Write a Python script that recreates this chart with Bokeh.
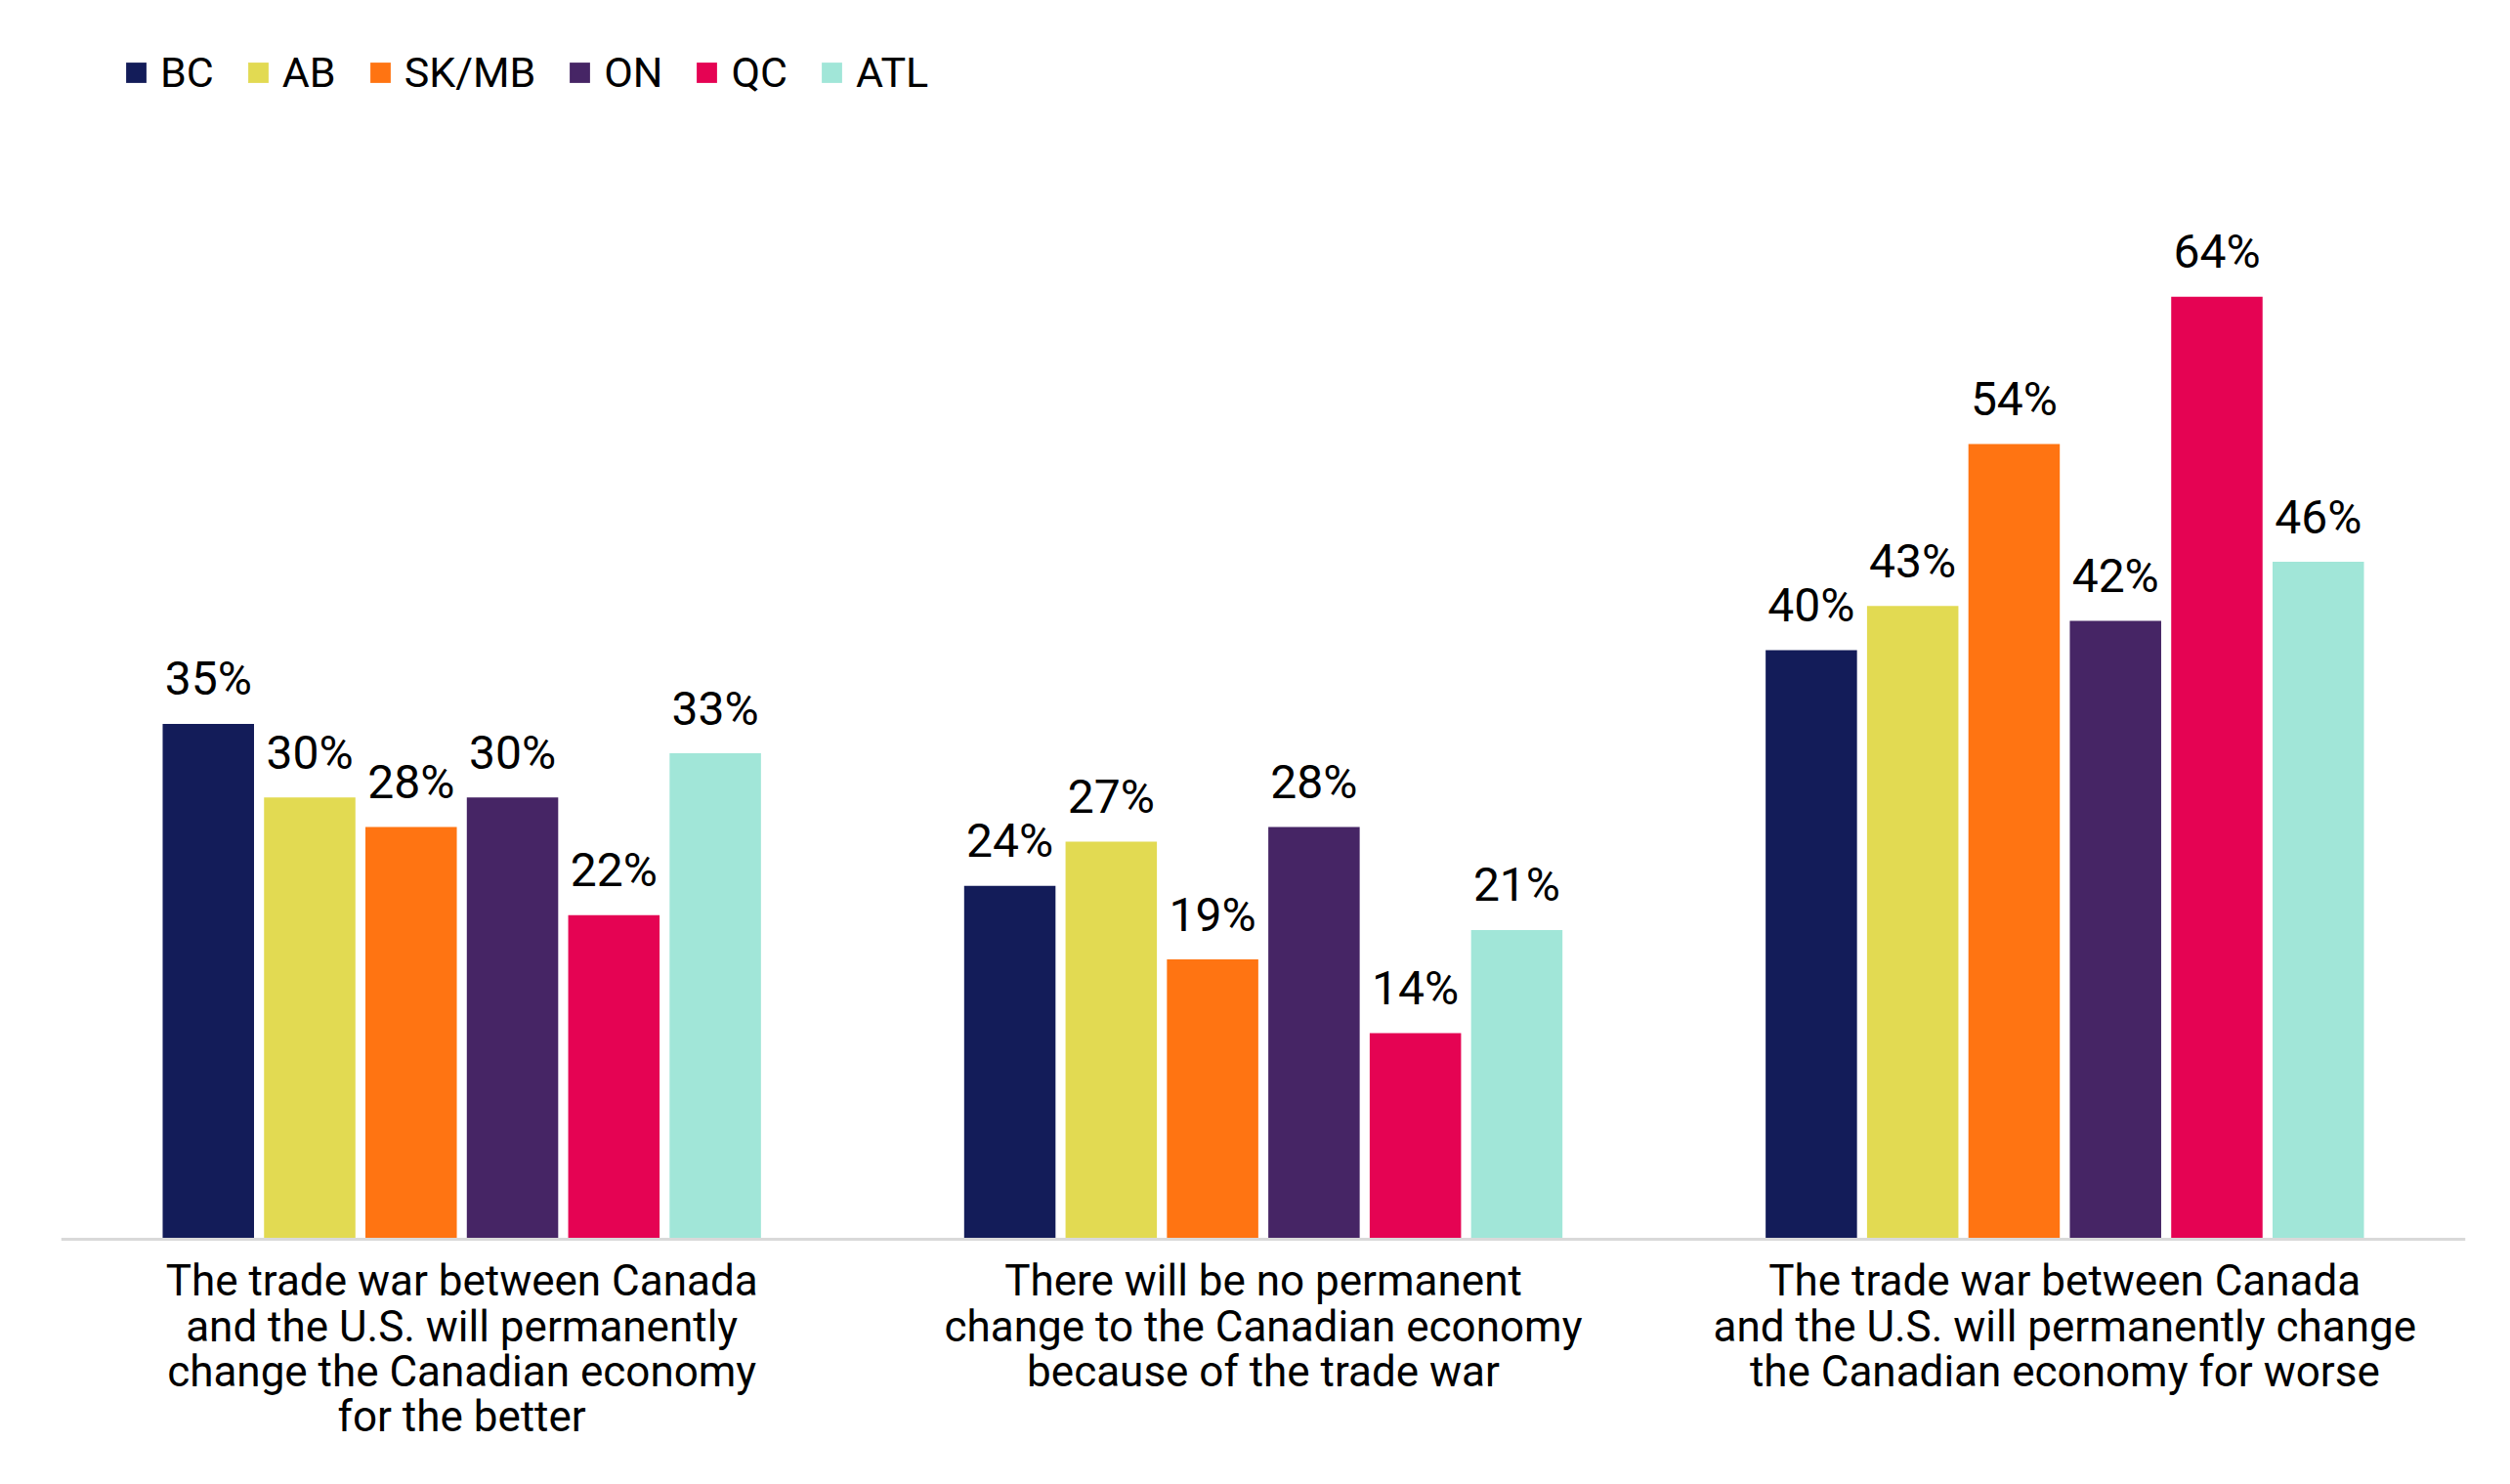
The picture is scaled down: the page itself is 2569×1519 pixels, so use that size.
from bokeh.plotting import figure
from bokeh.models import ColumnDataSource, FactorRange, Range1d, Legend, LegendItem, Span
from bokeh.transform import dodge
from bokeh.core.properties import value
from bokeh.embed import file_html
from bokeh.resources import INLINE

categories = [
    "The trade war between Canada\nand the U.S. will permanently\nchange the Canadian economy\nfor the better",
    "There will be no permanent\nchange to the Canadian economy\nbecause of the trade war",
    "The trade war between Canada\nand the U.S. will permanently change\nthe Canadian economy for worse",
]
regions = ["BC", "AB", "SK/MB", "ON", "QC", "ATL"]
colors = ["#131C59", "#E2DA52", "#FF7412", "#462565", "#E50353", "#A1E6D8"]
BC = [35, 24, 40]
AB = [30, 27, 43]
SKMB = [28, 19, 54]
ON = [30, 28, 42]
QC = [22, 14, 64]
ATL = [33, 21, 46]
series = [BC, AB, SKMB, ON, QC, ATL]

FONT = "Roboto"
W, H = 2553, 1500
p = figure(
    x_range=FactorRange(factors=categories, range_padding=0),
    y_range=Range1d(-15.4, 82.8),
    width=W, height=H,
    output_backend="svg", toolbar_location=None,
    min_border_left=62, min_border_right=30, min_border_top=20, min_border_bottom=0,
)
p.outline_line_color = None
p.xgrid.grid_line_color = None
p.ygrid.grid_line_color = None
p.yaxis.visible = False
p.xaxis.visible = False
p.background_fill_color = "white"
p.border_fill_color = "white"

# baseline (category axis line)
p.add_layout(Span(location=0, dimension="width", line_color="#D9D9D9", line_width=3))

# category labels under the axis line
cat_src = ColumnDataSource(dict(cat=categories, y=[0] * len(categories)))
p.text(x="cat", y="y", text="cat", source=cat_src, text_align="center", text_baseline="top",
       y_offset=17, text_font=value(FONT), text_font_size="44px", text_color="black",
       text_line_height=0.89)

step = 0.1265
bw = 0.114
items = []
for i, (reg, col, vals) in enumerate(zip(regions, colors, series)):
    src = ColumnDataSource(dict(cat=categories, val=vals, lab=[f"{v}%" for v in vals]))
    off = (i - 2.5) * step
    r = p.vbar(x=dodge("cat", off, range=p.x_range), top="val", width=bw, source=src,
               fill_color=col, line_color=None)
    p.text(x=dodge("cat", off, range=p.x_range), y="val", text="lab", source=src,
           text_align="center", text_baseline="alphabetic", y_offset=-46,
           text_font=value(FONT), text_font_size="48px", text_color="black")
    items.append(LegendItem(label=reg, renderers=[r]))

legend = Legend(items=items, orientation="horizontal", location=(64, 1401),
                label_text_font=FONT, label_text_font_size="43px", label_text_color="black",
                glyph_width=26, glyph_height=26, label_standoff=12, spacing=32,
                padding=0, margin=0, border_line_color=None, background_fill_alpha=0)
p.add_layout(legend)

open("out.html", "w").write(file_html(p, INLINE))
